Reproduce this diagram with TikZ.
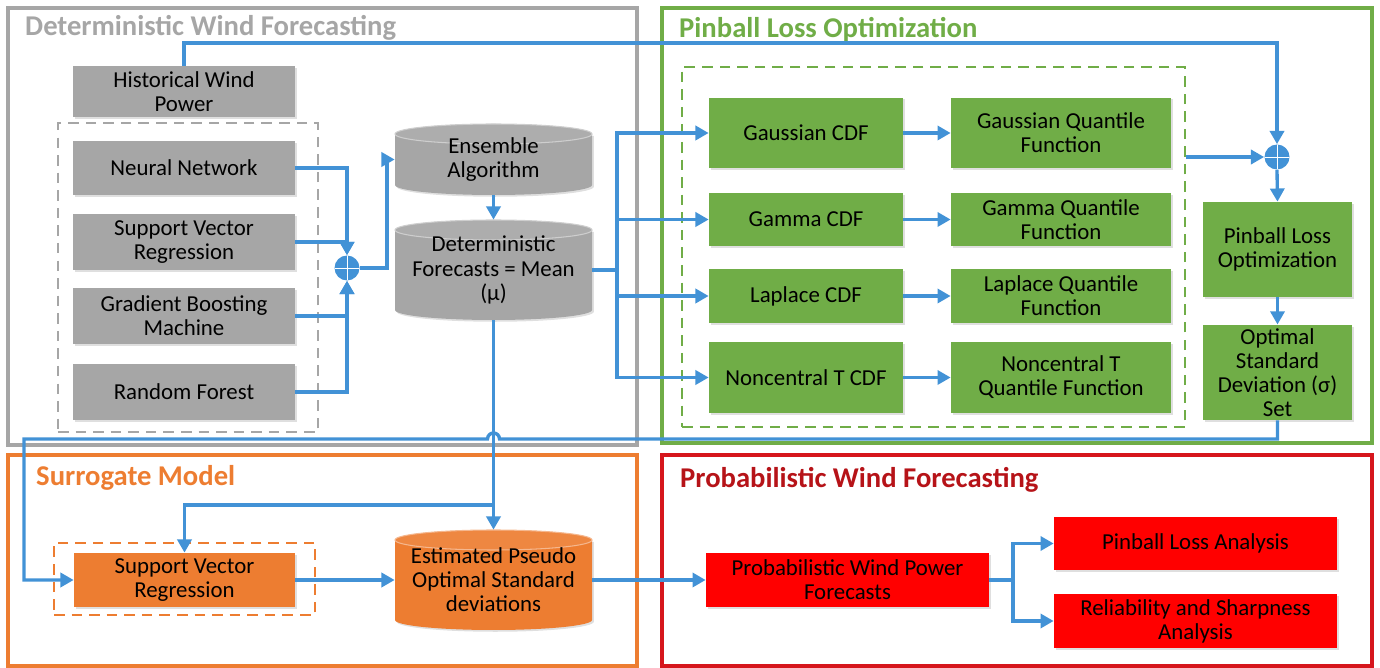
\documentclass[tikz,border=0pt]{standalone}
\usepackage{fontspec}
\setmainfont{Carlito}
\usetikzlibrary{positioning, arrows.meta, calc, shadows}

\definecolor{detgray}{RGB}{166,166,166}
\definecolor{pingreen}{RGB}{112,173,71}
\definecolor{surorange}{RGB}{237,125,49}
\definecolor{probred}{RGB}{255,0,0}
\definecolor{framered}{RGB}{214,22,28}
\definecolor{flowblue}{RGB}{66,146,214}

\begin{document}
\begin{tikzpicture}
    [
        x=0.02cm, y=-0.02cm,
        font=\fontsize{13}{13.7}\selectfont,
        softshadow/.style={drop shadow={shadow xshift=1pt, shadow yshift=-1pt, opacity=0.25}},
        block/.style={rectangle, align=center, inner sep=2pt, softshadow},
        gbox/.style={block, fill=detgray, minimum width=4.44cm},
        gnbox/.style={block, fill=pingreen},
        obox/.style={block, fill=surorange, minimum width=4.42cm, minimum height=1.08cm},
        rbox/.style={block, fill=probred, minimum width=5.66cm},
        cyltext/.style={rectangle, align=center, inner sep=0pt, minimum width=3.94cm, minimum height=#1},
        pics/dbcyl/.style args={#1/#2}{code={
            \fill [#2, softshadow] (-98.5,{10-#1/2}) -- (-98.5,{#1/2-10})
                arc[start angle=180, end angle=0, x radius=98.5, y radius=10] -- (98.5,{10-#1/2}) -- cycle;
            \filldraw [fill=#2!92!white, draw=#2!55!white, line width=0.6pt] (0,{10-#1/2}) ellipse[x radius=98.5, y radius=10];
        }},
        sum/.style={circle, fill=flowblue, minimum size=0.5cm, inner sep=0pt,
            path picture={\draw[white, line width=0.5pt]
                (path picture bounding box.north) -- (path picture bounding box.south)
                (path picture bounding box.west) -- (path picture bounding box.east);}},
        frame/.style={draw=#1, line width=1.8pt},
        group/.style={draw=#1, line width=0.9pt, dash pattern=on 6pt off 4pt, inner sep=0pt},
        title/.style={anchor=west, font=\fontsize{16.3}{18}\selectfont\bfseries, text=#1},
        line/.style={draw=flowblue, line width=1.9pt},
        flow/.style={line, -{Triangle[length=7.5pt,width=8pt]}}
    ]
        \useasboundingbox (0,0) rectangle (1380,668);

        % =========================================================================
        % FRAMES
        % =========================================================================
        \draw [frame=detgray] (8,8) rectangle (637,445);
        \draw [frame=pingreen] (662,8) rectangle (1372,443);
        \draw [frame=surorange] (8,455) rectangle (637,666);
        \draw [frame=framered] (662,455) rectangle (1372,666);

        \node [title=detgray] (dettitle) at (19,28) {Deterministic Wind Forecasting};
        \node [title=pingreen] (pintitle) at (673,30) {Pinball Loss Optimization};
        \node [title=surorange] (surtitle) at (30,478) {Surrogate Model};
        \node [title=framered!85!black] (probtitle) at (674,480) {Probabilistic Wind Forecasting};

        \node [group=detgray, minimum width=5.2cm, minimum height=6.18cm] (detgroup) at (188,277.5) {};
        \node [group=pingreen, minimum width=10.06cm, minimum height=7.2cm] (pingroup) at (933.5,247) {};
        \node [group=surorange, minimum width=5.22cm, minimum height=1.44cm] (surgroup) at (184.5,579) {};

        % =========================================================================
        % NODES
        % =========================================================================
        % --- Deterministic ---
        \node [gbox, minimum height=1.02cm] (hwp) at (184,91.5) {Historical Wind\\Power};
        \node [gbox, minimum height=1.08cm] (nn) at (184,168) {Neural Network};
        \node [gbox, minimum height=1.12cm] (svr) at (184,242) {Support Vector\\Regression};
        \node [gbox, minimum height=1.12cm] (gbm) at (184,316) {Gradient Boosting\\Machine};
        \node [gbox, minimum height=1.12cm] (rf) at (184,392) {Random Forest};
        \node [sum] (sum1) at (347,268) {};
        \pic at (493.5,159.5) {dbcyl=71/detgray};
        \node [cyltext=1.42cm] (ens) at (493.5,159.5) {Ensemble\\Algorithm};
        \pic at (493.5,270) {dbcyl=100/detgray};
        \node [cyltext=2cm] (detf) at (493.5,270) {Deterministic\\Forecasts = Mean\\(μ)};

        % --- Pinball ---
        \node [gnbox, minimum width=3.88cm, minimum height=1.42cm] (gaus) at (806,133) {Gaussian CDF};
        \node [gnbox, minimum width=3.88cm, minimum height=1.06cm] (gam) at (806,219.5) {Gamma CDF};
        \node [gnbox, minimum width=3.88cm, minimum height=1.08cm] (lap) at (806,296) {Laplace CDF};
        \node [gnbox, minimum width=3.88cm, minimum height=1.42cm] (nct) at (806,377.5) {Noncentral T CDF};
        \node [gnbox, minimum width=4.4cm, minimum height=1.42cm] (gausq) at (1061,133) {Gaussian Quantile\\Function};
        \node [gnbox, minimum width=4.4cm, minimum height=1.06cm] (gamq) at (1061,219.5) {Gamma Quantile\\Function};
        \node [gnbox, minimum width=4.4cm, minimum height=1.08cm] (lapq) at (1061,296) {Laplace Quantile\\Function};
        \node [gnbox, minimum width=4.4cm, minimum height=1.42cm] (nctq) at (1061,377.5) {Noncentral T\\Quantile Function};
        \node [sum] (sum2) at (1277,157) {};
        \node [gnbox, minimum width=2.98cm, minimum height=1.9cm] (plo) at (1277.5,249.5) {Pinball Loss\\Optimization};
        \node [gnbox, minimum width=2.98cm, minimum height=1.9cm] (osd) at (1277.5,372.5) {Optimal\\Standard\\Deviation (σ)\\Set};

        % --- Surrogate ---
        \node [obox] (svr2) at (184.5,580) {Support Vector\\Regression};
        \pic at (493.5,580) {dbcyl=100/surorange};
        \node [cyltext=2cm] (est) at (493.5,580) {Estimated Pseudo\\Optimal Standard\\deviations};

        % --- Probabilistic ---
        \node [rbox, minimum height=1.08cm] (pwpf) at (847.5,580) {Probabilistic Wind Power\\Forecasts};
        \node [rbox, minimum height=1.06cm] (pla) at (1195.5,543.5) {Pinball Loss Analysis};
        \node [rbox, minimum height=1.08cm] (rsa) at (1195.5,621) {Reliability and Sharpness\\Analysis};

        \coordinate (topline) at (0,43);
        \coordinate (bus) at (617,0);
        \coordinate (retline) at (0,439);
        \coordinate (retleft) at (24,439);
        \coordinate (split) at (0,505);
        \coordinate (fork) at (1013,0);

        % =========================================================================
        % PATHS
        % =========================================================================
        % --- Ensemble ---
        \draw [flow] (hwp.north) -- (hwp.north |- topline) -| (sum2.north);
        \draw [flow] (nn.east) -| (sum1.north);
        \draw [flow] (svr.east) -| (sum1.north);
        \draw [flow] (gbm.east) -| (sum1.south);
        \draw [flow] (rf.east) -| (sum1.south);
        \draw [flow] (sum1.east) -- ++(27,0) |- (ens.west);
        \draw [flow] (ens.south) -- (detf.north);

        % --- Distributions ---
        \draw [line] (detf.east) -- (detf.east -| bus);
        \foreach \cdf in {gaus, gam, lap, nct}
            \draw [flow] (detf.east -| bus) |- (\cdf.west);
        \draw [flow] (gaus) -- (gausq);
        \draw [flow] (gam) -- (gamq);
        \draw [flow] (lap) -- (lapq);
        \draw [flow] (nct) -- (nctq);
        \draw [flow] (pingroup.east |- sum2) -- (sum2.west);
        \draw [flow] (sum2.south) -- (plo.north);
        \draw [flow] (plo.south) -- (osd.north);

        % --- Surrogate ---
        \draw [flow] (osd.south) -- (osd.south |- retline)
            -- ($(detf.south |- retline)+(6,0)$) arc[start angle=0, end angle=-180, radius=6]
            -- (retleft) |- (svr2.west);
        \draw [flow] (detf.south) -- (est.north);
        \draw [flow] (detf.south |- split) -| (svr2.north);
        \draw [flow] (svr2.east) -- (est.west);
        \draw [flow] (est.east) -- (pwpf.west);

        % --- Analysis ---
        \draw [line] (pwpf.east) -- (pwpf.east -| fork);
        \draw [flow] (pwpf.east -| fork) |- (pla.west);
        \draw [flow] (pwpf.east -| fork) |- (rsa.west);

    \end{tikzpicture}
\end{document}
